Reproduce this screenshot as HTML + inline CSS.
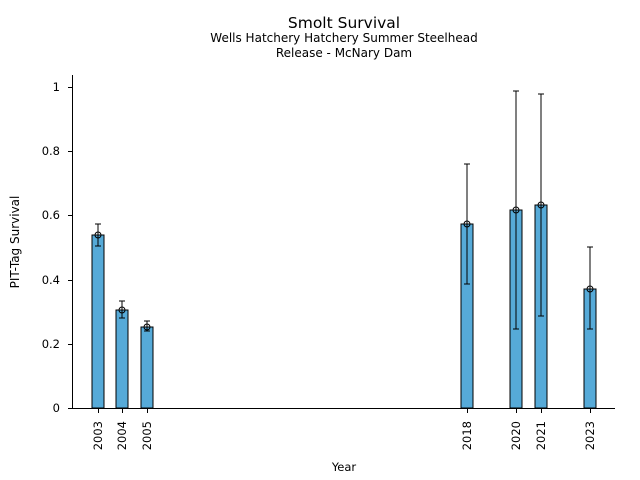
<!DOCTYPE html>
<html><head><style>body{margin:0;background:#fff}svg{display:block}text{font-family:"DejaVu Sans","Liberation Sans",sans-serif;fill:#000}</style></head>
<body>
<svg width="640" height="480" xmlns="http://www.w3.org/2000/svg">
<text x="344" y="28" font-size="15.5" text-anchor="middle">Smolt Survival</text>
<text x="344" y="42" font-size="12" text-anchor="middle">Wells Hatchery Hatchery Summer Steelhead</text>
<text x="344" y="57" font-size="12" text-anchor="middle">Release - McNary Dam</text>
<g fill="#56aad8" stroke="#000" stroke-width="1">
<rect x="92" y="235" width="12" height="173"/>
<rect x="116" y="310" width="12" height="98"/>
<rect x="141" y="327" width="12" height="81"/>
<rect x="461" y="224" width="12" height="184"/>
<rect x="510" y="210" width="12" height="198"/>
<rect x="535" y="205" width="12" height="203"/>
<rect x="584" y="289" width="12" height="119"/>
</g>
<g stroke="#000" stroke-width="1" fill="none">
<path d="M98 224V246M95 224H101M95 246H101"/>
<path d="M122 301V318M119 301H125M119 318H125"/>
<path d="M147 321V331M144 321H150M144 331H150"/>
<path d="M467 164V284M464 164H470M464 284H470"/>
<path d="M516 91V329M513 91H519M513 329H519"/>
<path d="M541 94V316M538 94H544M538 316H544"/>
<path d="M590 247V329M587 247H593M587 329H593"/>
<circle cx="98" cy="235" r="3"/><circle cx="122" cy="310" r="3"/><circle cx="147" cy="327" r="3"/>
<circle cx="467" cy="224" r="3"/><circle cx="516" cy="210" r="3"/><circle cx="541" cy="205" r="3"/><circle cx="590" cy="289" r="3"/>
</g>
<g stroke="#000" stroke-width="1" fill="none">
<path d="M72.5 75V408.5H615"/>
<path d="M68 408.5H72M68 344.5H72M68 280.5H72M68 215.5H72M68 151.5H72M68 87.5H72"/>
<path d="M98.5 408V413M122.5 408V413M147.5 408V413M467.5 408V413M516.5 408V413M541.5 408V413M590.5 408V413"/>
</g>
<g font-size="11.5" text-anchor="end">
<text x="60" y="412">0</text><text x="60" y="348">0.2</text><text x="60" y="284">0.4</text><text x="60" y="219">0.6</text><text x="60" y="155">0.8</text><text x="60" y="91">1</text>
</g>
<g font-size="11.5" text-anchor="end">
<text transform="translate(102,421) rotate(-90)">2003</text>
<text transform="translate(126,421) rotate(-90)">2004</text>
<text transform="translate(151,421) rotate(-90)">2005</text>
<text transform="translate(471,421) rotate(-90)">2018</text>
<text transform="translate(520,421) rotate(-90)">2020</text>
<text transform="translate(545,421) rotate(-90)">2021</text>
<text transform="translate(594,421) rotate(-90)">2023</text>
</g>
<text x="344" y="471" font-size="11.5" text-anchor="middle">Year</text>
<text transform="translate(19,242) rotate(-90)" font-size="12" text-anchor="middle">PIT-Tag Survival</text>
</svg>
</body></html>
